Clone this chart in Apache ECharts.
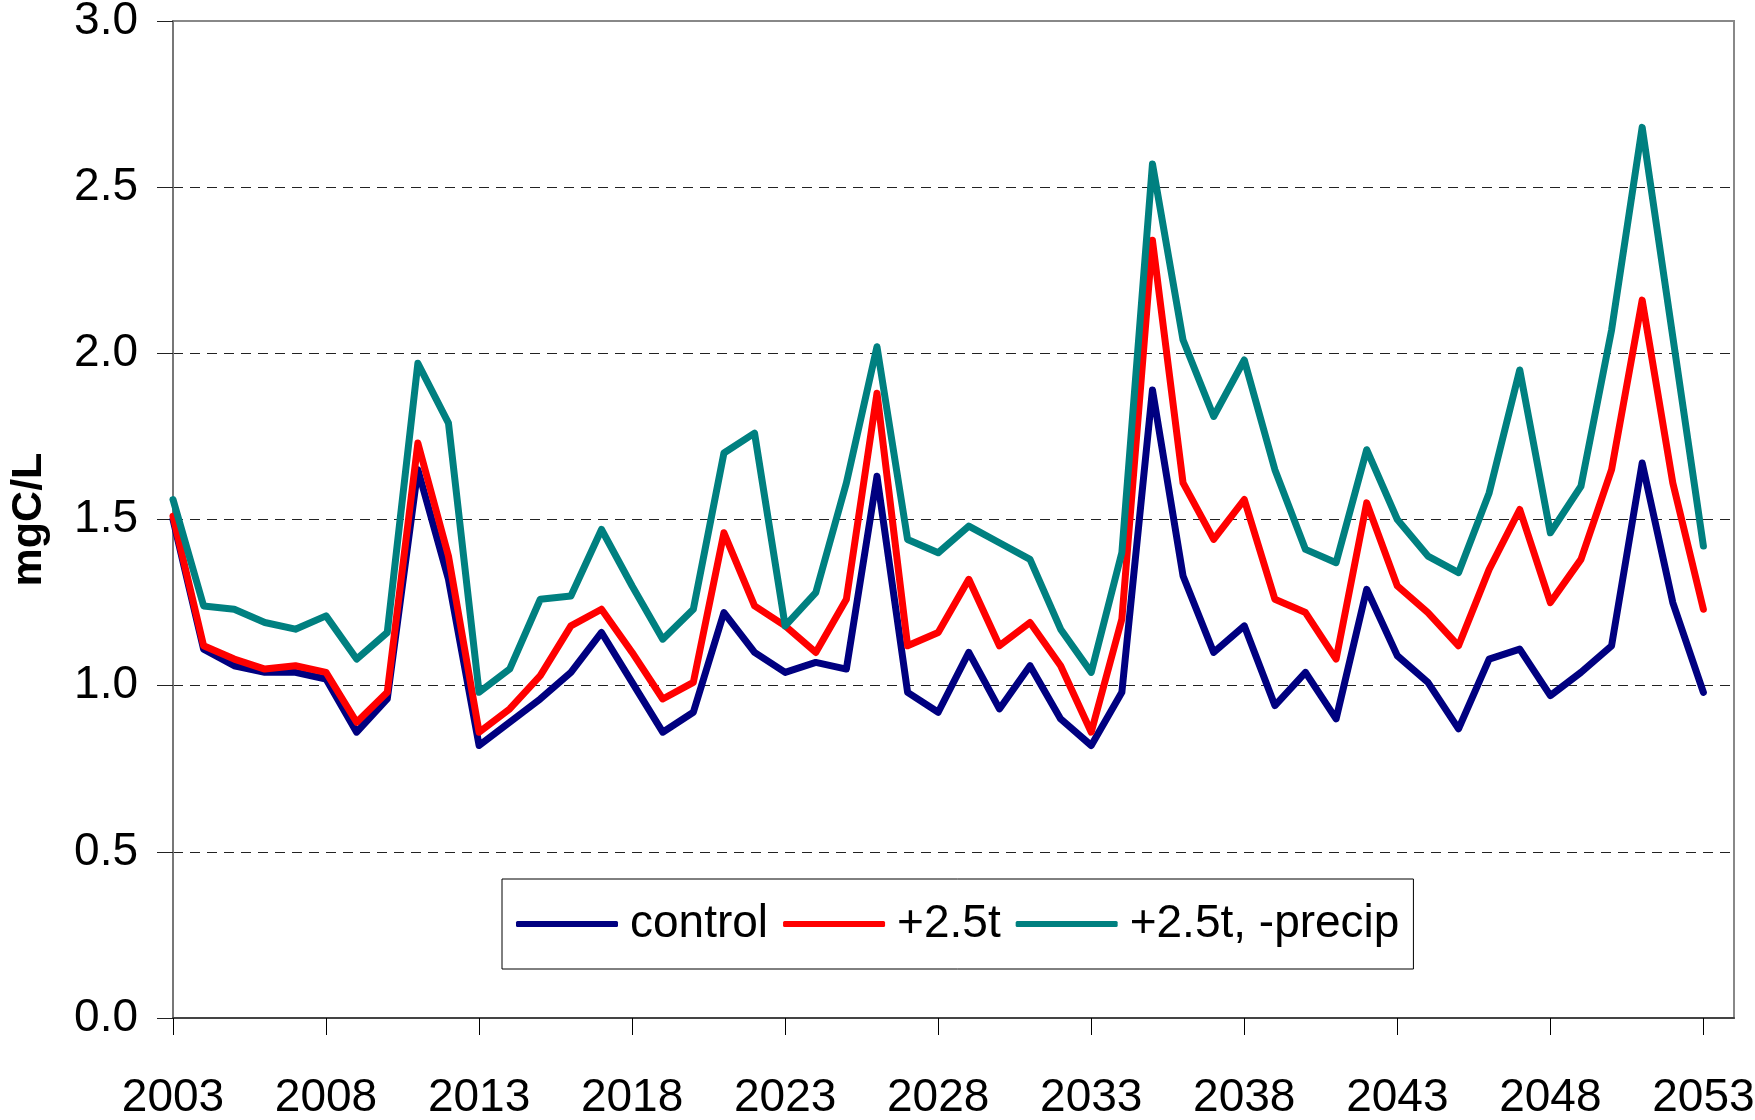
<!DOCTYPE html>
<html>
<head>
<meta charset="utf-8">
<title>mgC/L</title>
<script src="https://cdn.jsdelivr.net/npm/echarts@6/dist/echarts.min.js"></script>
<style>
  html, body { margin: 0; padding: 0; background: #fff; }
  #main { width: 1755px; height: 1120px; }
</style>
</head>
<body>
<div id="main"></div>
<script>
// years on the x axis
var years = [
  2003, 2004, 2005, 2006, 2007, 2008, 2009, 2010, 2011, 2012,
  2013, 2014, 2015, 2016, 2017, 2018, 2019, 2020, 2021, 2022,
  2023, 2024, 2025, 2026, 2027, 2028, 2029, 2030, 2031, 2032,
  2033, 2034, 2035, 2036, 2037, 2038, 2039, 2040, 2041, 2042,
  2043, 2044, 2045, 2046, 2047, 2048, 2049, 2050, 2051, 2052,
  2053
];
var tickYears = [2003, 2008, 2013, 2018, 2023, 2028, 2033, 2038, 2043, 2048, 2053];

var seriesNames = ['control', '+2.5t', '+2.5t, -precip'];

// control
var control = [
  1.50, 1.11, 1.06, 1.04, 1.04, 1.02, 0.86, 0.96, 1.65, 1.32,
  0.82, 0.89, 0.96, 1.04, 1.16, 1.01, 0.86, 0.92, 1.22, 1.10,
  1.04, 1.07, 1.05, 1.63, 0.98, 0.92, 1.10, 0.93, 1.06, 0.90,
  0.82, 0.98, 1.89, 1.33, 1.10, 1.18, 0.94, 1.04, 0.90, 1.29,
  1.09, 1.01, 0.87, 1.08, 1.11, 0.97, 1.04, 1.12, 1.67, 1.25,
  0.98
];
// +2.5t
var warm = [
  1.51, 1.12, 1.08, 1.05, 1.06, 1.04, 0.89, 0.98, 1.73, 1.39,
  0.86, 0.93, 1.03, 1.18, 1.23, 1.10, 0.96, 1.01, 1.46, 1.24,
  1.18, 1.10, 1.26, 1.88, 1.12, 1.16, 1.32, 1.12, 1.19, 1.06,
  0.86, 1.20, 2.34, 1.61, 1.44, 1.56, 1.26, 1.22, 1.08, 1.55,
  1.30, 1.22, 1.12, 1.35, 1.53, 1.25, 1.38, 1.65, 2.16, 1.61,
  1.23
];
// +2.5t, -precip
var warmDry = [
  1.56, 1.24, 1.23, 1.19, 1.17, 1.21, 1.08, 1.16, 1.97, 1.79,
  0.98, 1.05, 1.26, 1.27, 1.47, 1.30, 1.14, 1.23, 1.70, 1.76,
  1.18, 1.28, 1.61, 2.02, 1.44, 1.40, 1.48, 1.43, 1.38, 1.17,
  1.04, 1.40, 2.57, 2.04, 1.81, 1.98, 1.65, 1.41, 1.37, 1.71,
  1.50, 1.39, 1.34, 1.58, 1.95, 1.46, 1.60, 2.07, 2.68, 2.05,
  1.42
];

var colors = ['#000080', '#ff0000', '#008080'];
var font = 'Arial, "Liberation Sans", sans-serif';

function pairs(vals) {
  return years.map(function (y, i) { return [y, vals[i]]; });
}

function lineSeries(name, vals, color) {
  return {
    name: name,
    type: 'line',
    data: pairs(vals),
    symbol: 'none',
    color: color,
    lineStyle: { color: color, width: 7, join: 'round', cap: 'round' },
    emphasis: { disabled: true }
  };
}

var myChart = echarts.init(document.getElementById('main'));
myChart.setOption({
  animation: false,
  backgroundColor: '#fff',
  grid: {
    left: 173, right: 21, top: 21, bottom: 102,
    outerBoundsMode: 'none',
    show: true,
    borderColor: '#888',
    borderWidth: 2
  },
  legend: {
    data: seriesNames,
    left: 502,
    top: 879,
    padding: [22, 14, 22, 14],
    borderColor: '#000',
    borderWidth: 1,
    icon: 'roundRect',
    itemWidth: 102,
    itemHeight: 6,
    itemGap: 15,
    textStyle: {
      fontFamily: font,
      fontSize: 46,
      color: '#000',
      lineHeight: 46,
      padding: [0, 0, 0, 7]
    }
  },
  xAxis: {
    type: 'value',
    min: 2003,
    max: 2054,
    axisLine: { show: true, lineStyle: { color: '#444', width: 2 } },
    axisTick: {
      show: true,
      customValues: tickYears,
      length: 17,
      lineStyle: { color: '#000', width: 1 }
    },
    axisLabel: {
      customValues: tickYears,
      margin: 57,
      fontFamily: font,
      fontSize: 46,
      color: '#000',
      formatter: function (v) { return tickYears.indexOf(v) >= 0 ? String(v) : ''; }
    },
    splitLine: { show: false }
  },
  yAxis: {
    type: 'value',
    min: 0,
    max: 3,
    interval: 0.5,
    name: 'mgC/L',
    nameLocation: 'middle',
    nameGap: 122,
    nameTextStyle: {
      fontFamily: font,
      fontSize: 43,
      fontWeight: 'bold',
      color: '#000'
    },
    axisLine: { show: true, lineStyle: { color: '#777', width: 2 } },
    axisTick: { show: true, length: 16, lineStyle: { color: '#222', width: 1 } },
    axisLabel: {
      margin: 35,
      fontFamily: font,
      fontSize: 46,
      color: '#000',
      formatter: function (v) { return v.toFixed(1); }
    },
    splitLine: {
      show: true,
      showMinLine: false,
      showMaxLine: false,
      lineStyle: { color: '#222', width: 1, type: [10, 7] }
    }
  },
  series: [
    lineSeries(seriesNames[0], control, colors[0]),
    lineSeries(seriesNames[1], warm, colors[1]),
    lineSeries(seriesNames[2], warmDry, colors[2])
  ]
});
</script>
</body>
</html>
